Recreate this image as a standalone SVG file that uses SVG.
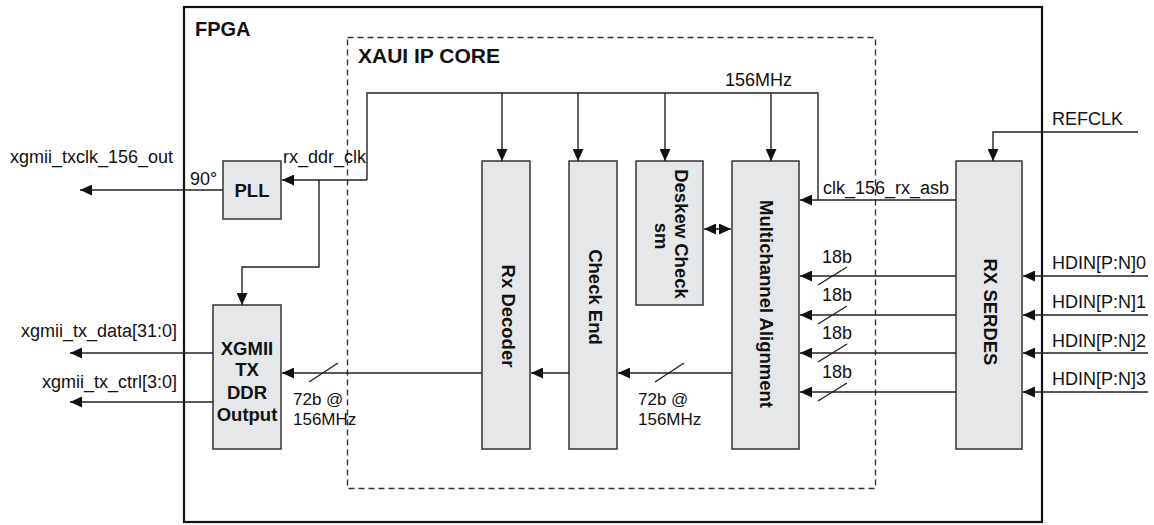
<svg xmlns="http://www.w3.org/2000/svg" width="1154" height="525" viewBox="0 0 1154 525">
<defs>
<marker id="ah" viewBox="0 0 12 11" refX="12" refY="5.5" markerWidth="12" markerHeight="11" markerUnits="userSpaceOnUse" orient="auto-start-reverse">
<path d="M0,0 L12,5.5 L0,11 Z" fill="#111"/>
</marker>
</defs>
<style>
.blk{fill:#e6e7e8;stroke:#333;stroke-width:1.5}
.ln{fill:none;stroke:#222;stroke-width:1.4}
.arr{fill:none;stroke:#222;stroke-width:1.4;marker-end:url(#ah)}
.t{font-family:"Liberation Sans",Arial,sans-serif;font-size:18px;fill:#111}
.s{font-family:"Liberation Sans",Arial,sans-serif;font-size:17px;fill:#111}
.b{font-family:"Liberation Sans",Arial,sans-serif;font-size:18.5px;font-weight:bold;fill:#111}
.vb{font-family:"Liberation Sans",Arial,sans-serif;font-size:18.5px;font-weight:bold;fill:#111;text-anchor:middle}
</style>
<rect width="1154" height="525" fill="#fff"/>

<g id="fpga">
<rect x="184" y="7" width="858" height="515" fill="none" stroke="#111" stroke-width="2.2"/>
<text class="b" x="195" y="36" style="font-size:20px">FPGA</text>
</g>

<g id="xaui-core">
<rect x="347.5" y="37.5" width="528" height="451" fill="none" stroke="#333" stroke-width="1.4" stroke-dasharray="6,4"/>
<text class="b" x="358" y="63" style="font-size:21px">XAUI IP CORE</text>
</g>

<g id="pll">
<rect class="blk" x="223" y="161" width="58" height="58"/>
<text class="b" x="252" y="197" text-anchor="middle">PLL</text>
</g>

<g id="xgmii">
<rect class="blk" x="213" y="305" width="68" height="144"/>
<text class="b" x="247" y="355" text-anchor="middle">XGMII</text>
<text class="b" x="247" y="376" text-anchor="middle">TX</text>
<text class="b" x="247" y="399" text-anchor="middle">DDR</text>
<text class="b" x="247" y="421" text-anchor="middle">Output</text>
</g>

<g id="rx-decoder">
<rect class="blk" x="482" y="161" width="48" height="288"/>
<text class="vb" transform="translate(502,316) rotate(90)">Rx Decoder</text>
</g>

<g id="check-end">
<rect class="blk" x="569" y="161" width="48" height="288"/>
<text class="vb" transform="translate(589,297) rotate(90)">Check End</text>
</g>

<g id="deskew">
<rect class="blk" x="636" y="161" width="67" height="144"/>
<text class="vb" transform="translate(675,234) rotate(90)">Deskew Check</text>
<text class="vb" transform="translate(655,236) rotate(90)">sm</text>
</g>

<g id="multichannel">
<rect class="blk" x="732" y="161" width="67" height="288"/>
<text class="vb" transform="translate(760,304) rotate(90)">Multichannel Alignment</text>
</g>

<g id="rx-serdes">
<rect class="blk" x="956" y="161" width="66" height="288"/>
<text class="vb" transform="translate(984,312) rotate(90)">RX SERDES</text>
</g>

<g id="connectors">
<polyline class="ln" points="367,180 367,93 818,93 818,200"/>
<line class="arr" x1="502" y1="93" x2="502" y2="161"/>
<line class="arr" x1="578" y1="93" x2="578" y2="161"/>
<line class="arr" x1="665" y1="93" x2="665" y2="161"/>
<line class="arr" x1="771" y1="93" x2="771" y2="161"/>
<line class="arr" x1="367" y1="180" x2="282" y2="180"/>
<polyline class="arr" points="319,180 319,267 242,267 242,305"/>
<line class="arr" x1="223" y1="190" x2="80" y2="190"/>
<line class="arr" x1="213" y1="353" x2="70" y2="353"/>
<line class="arr" x1="213" y1="402" x2="70" y2="402"/>
<line class="arr" x1="482" y1="373" x2="282" y2="373"/>
<line class="ln" x1="309" y1="382" x2="338" y2="363"/>
<line class="arr" x1="569" y1="373" x2="531" y2="373"/>
<line class="arr" x1="732" y1="373" x2="618" y2="373"/>
<line class="ln" x1="655" y1="382" x2="684" y2="363"/>
<line class="arr" x1="718" y1="229" x2="704" y2="229"/>
<line class="arr" x1="717" y1="229" x2="731" y2="229"/>
<line class="arr" x1="956" y1="200" x2="800" y2="200"/>
<polyline class="arr" points="1138,132 993,132 993,161"/>
<line class="arr" x1="1148" y1="276" x2="1023" y2="276"/>
<line class="arr" x1="1148" y1="315" x2="1023" y2="315"/>
<line class="arr" x1="1148" y1="353" x2="1023" y2="353"/>
<line class="arr" x1="1148" y1="392" x2="1023" y2="392"/>
<line class="arr" x1="956" y1="276" x2="800" y2="276"/>
<line class="arr" x1="956" y1="315" x2="800" y2="315"/>
<line class="arr" x1="956" y1="353" x2="800" y2="353"/>
<line class="arr" x1="956" y1="392" x2="800" y2="392"/>
<line class="ln" x1="818" y1="285" x2="847" y2="267"/>
<line class="ln" x1="818" y1="324" x2="847" y2="306"/>
<line class="ln" x1="818" y1="362" x2="847" y2="344"/>
<line class="ln" x1="818" y1="401" x2="847" y2="383"/>
</g>

<g id="labels">
<text class="t" x="725" y="86">156MHz</text>
<text class="t" x="283" y="163">rx_ddr_clk</text>
<text class="t" x="190" y="185">90°</text>
<text class="t" x="10" y="163">xgmii_txclk_156_out</text>
<text class="t" x="177" y="337" text-anchor="end">xgmii_tx_data[31:0]</text>
<text class="t" x="177" y="388" text-anchor="end">xgmii_tx_ctrl[3:0]</text>
<text class="s" x="293" y="405">72b @</text>
<text class="s" x="293" y="425">156MHz</text>
<text class="s" x="638" y="405">72b @</text>
<text class="s" x="638" y="425">156MHz</text>
<text class="t" x="823" y="194">clk_156_rx_asb</text>
<text class="t" x="1052" y="125">REFCLK</text>
<text class="t" x="1052" y="269">HDIN[P:N]0</text>
<text class="t" x="1052" y="308">HDIN[P:N]1</text>
<text class="t" x="1052" y="347">HDIN[P:N]2</text>
<text class="t" x="1052" y="385">HDIN[P:N]3</text>
<text class="t" x="822" y="263">18b</text>
<text class="t" x="822" y="301">18b</text>
<text class="t" x="822" y="339">18b</text>
<text class="t" x="822" y="378">18b</text>
</g>
</svg>
